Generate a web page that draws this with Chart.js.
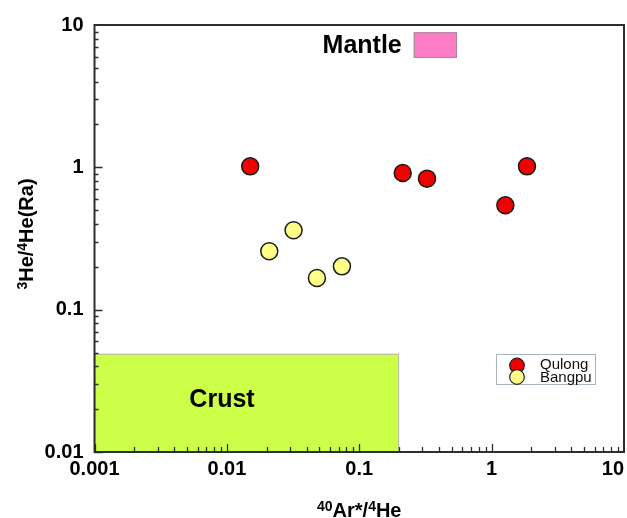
<!DOCTYPE html>
<html>
<head>
<meta charset="utf-8">
<script src="https://cdn.jsdelivr.net/npm/chart.js@4/dist/chart.umd.min.js"></script>
<style>
html,body{margin:0;padding:0;background:#fff;}
#wrap{width:627px;height:518px;position:relative;}
</style>
</head>
<body>
<div id="wrap"><canvas id="c" width="627" height="518"></canvas></div>
<script>
// ---- data ----
const qulongX = [0.0150, 0.213, 0.325, 1.27, 1.85];
const qulongY = [1.016, 0.913, 0.833, 0.541, 1.016];
const bangpuX = [0.0209, 0.0319, 0.0479, 0.0740];
const bangpuY = [0.257, 0.361, 0.167, 0.2015];
const xTickValues = [0.001, 0.01, 0.1, 1, 10];
const xTickLabels = ['0.001', '0.01', '0.1', '1', '10'];
const yTickValues = [0.01, 0.1, 1, 10];
const yTickLabels = ['0.01', '0.1', '1', '10'];
const crustBox = [0.001, 0.2, 0.01, 0.049];   // xMin, xMax, yMin, yMax
const mantleBox = [0.258, 0.548, 5.87, 8.89]; // xMin, xMax, yMin, yMax
const seriesNames = ['Qulong', 'Bangpu'];
const regionLabels = ['Crust', 'Mantle'];
// axis titles as [text, isSuperscript] pieces
const xTitleParts = [['40', true], ['Ar*/', false], ['4', true], ['He', false]];
const yTitleParts = [['3', true], ['He/', false], ['4', true], ['He(Ra)', false]];

const FONT = '"Liberation Sans", Arial, Helvetica, sans-serif';

function pts(xs, ys) { return xs.map((x, i) => ({x: x, y: ys[i]})); }

function drawParts(ctx, parts, cx, baseY) {
  const big = 'bold 20px ' + FONT, small = 'bold 14px ' + FONT;
  let w = 0;
  parts.forEach(p => { ctx.font = p[1] ? small : big; w += ctx.measureText(p[0]).width; });
  let x = cx - w / 2;
  ctx.textAlign = 'left';
  ctx.textBaseline = 'alphabetic';
  parts.forEach(p => {
    ctx.font = p[1] ? small : big;
    ctx.fillText(p[0], x, p[1] ? baseY - 6 : baseY);
    x += ctx.measureText(p[0]).width;
  });
}

const decor = {
  id: 'decor',
  beforeDatasetsDraw(chart) {
    const {ctx, scales: {x, y}} = chart;
    ctx.save();
    // crust
    let x0 = x.getPixelForValue(crustBox[0]), x1 = x.getPixelForValue(crustBox[1]);
    let y0 = y.getPixelForValue(crustBox[3]), y1 = y.getPixelForValue(crustBox[2]);
    ctx.fillStyle = '#ccff47';
    ctx.fillRect(x0, y0, x1 - x0, y1 - y0);
    ctx.strokeStyle = '#b4b8a8';
    ctx.lineWidth = 1;
    ctx.strokeRect(x0 + 0.5, y0 + 0.5, x1 - x0 - 1, y1 - y0);
    ctx.fillStyle = '#000';
    ctx.font = 'bold 25px ' + FONT;
    ctx.textAlign = 'center';
    ctx.textBaseline = 'middle';
    ctx.fillText(regionLabels[0], 222, 400);
    // mantle
    x0 = x.getPixelForValue(mantleBox[0]); x1 = x.getPixelForValue(mantleBox[1]);
    y0 = y.getPixelForValue(mantleBox[3]); y1 = y.getPixelForValue(mantleBox[2]);
    ctx.fillStyle = '#ff7dc6';
    ctx.fillRect(x0, y0, x1 - x0, y1 - y0);
    ctx.strokeStyle = '#a08898';
    ctx.strokeRect(x0 + 0.5, y0 + 0.5, x1 - x0 - 1, y1 - y0 - 1);
    ctx.fillStyle = '#000';
    ctx.textAlign = 'right';
    ctx.fillText(regionLabels[1], x0 - 12, (y0 + y1) / 2 + 1);
    ctx.restore();
  },
  afterDraw(chart) {
    const {ctx, chartArea: a, scales: {x, y}} = chart;
    ctx.save();
    ctx.strokeStyle = '#2a2e30';
    ctx.lineWidth = 2;
    ctx.strokeRect(a.left, a.top, a.right - a.left, a.bottom - a.top);
    ctx.lineWidth = 1.3;
    ctx.beginPath();
    for (let e = -3; e < 1; e++) {
      for (let m = 1; m <= 9; m++) {
        const v = m * Math.pow(10, e);
        const px = Math.round(x.getPixelForValue(v)) + 0.5;
        const len = m === 1 ? 8 : 5;
        ctx.moveTo(px, a.bottom);
        ctx.lineTo(px, a.bottom - len);
      }
    }
    for (let e = -2; e < 1; e++) {
      for (let m = 1; m <= 9; m++) {
        const v = m * Math.pow(10, e);
        const py = Math.round(y.getPixelForValue(v)) + 0.5;
        const len = m === 1 ? 8 : 4;
        ctx.moveTo(a.left, py);
        ctx.lineTo(a.left + len, py);
      }
    }
    ctx.stroke();
    // axis titles
    ctx.fillStyle = '#000';
    drawParts(ctx, xTitleParts, (a.left + a.right) / 2, 517);
    ctx.save();
    ctx.translate(33, 234);
    ctx.rotate(-Math.PI / 2);
    drawParts(ctx, yTitleParts, 0, 0);
    ctx.restore();
    // legend
    ctx.lineWidth = 1;
    ctx.strokeStyle = '#aab4bc';
    ctx.fillStyle = '#fff';
    ctx.fillRect(496.5, 354.5, 99, 30);
    ctx.strokeRect(496.5, 354.5, 99, 30);
    const ds = chart.data.datasets;
    const cy = [365.5, 377];
    ctx.font = '15px ' + FONT;
    ctx.textAlign = 'left';
    ctx.textBaseline = 'middle';
    for (let i = 0; i < 2; i++) {
      ctx.beginPath();
      ctx.arc(517, cy[i], 7.3, 0, Math.PI * 2);
      ctx.fillStyle = ds[i].backgroundColor;
      ctx.fill();
      ctx.lineWidth = 1.2;
      ctx.strokeStyle = '#222';
      ctx.stroke();
      ctx.fillStyle = '#111';
      ctx.fillText(ds[i].label, 540, cy[i] + (i === 0 ? -1 : 1));
    }
    ctx.restore();
  }
};

const zeroPad = () => ({left: 0, top: 0, right: 0, bottom: 0});

function xAfterFit(s) {
  s.height = 66; s.paddingLeft = 0; s.paddingRight = 0; s.getPadding = zeroPad;
  if (!s._patched) {
    const orig = s._computeLabelItems;
    s._computeLabelItems = function (ca) {
      const items = orig.call(this, ca);
      if (items.length) items[items.length - 1].options.textAlign = 'right';
      return items;
    };
    s._patched = true;
  }
}

new Chart(document.getElementById('c'), {
  type: 'scatter',
  data: {
    datasets: [
      {label: seriesNames[0], data: pts(qulongX, qulongY), backgroundColor: '#f20000',
       borderColor: '#1a1a1a', borderWidth: 1.5, pointRadius: 8.5, pointHoverRadius: 8.5},
      {label: seriesNames[1], data: pts(bangpuX, bangpuY), backgroundColor: '#ffff88',
       borderColor: '#1a1a1a', borderWidth: 1.5, pointRadius: 8.5, pointHoverRadius: 8.5}
    ]
  },
  options: {
    responsive: false,
    animation: false,
    layout: {autoPadding: false, padding: {top: 25, right: 3, left: 0, bottom: 0}},
    plugins: {legend: {display: false}, tooltip: {enabled: false}},
    scales: {
      x: {
        type: 'logarithmic', min: 0.001, max: 10, position: 'bottom',
        grid: {display: false, drawTicks: false},
        border: {display: false},
        afterBuildTicks: s => { s.ticks = xTickValues.map(v => ({value: v})); },
        afterFit: xAfterFit,
        ticks: {
          autoSkip: false, maxRotation: 0, padding: 5, color: '#000',
          font: {family: FONT, size: 20, weight: 'bold'},
          callback: (v, i) => xTickLabels[i]
        },
        title: {display: false, text: '⁴⁰Ar*/⁴He'}
      },
      y: {
        type: 'logarithmic', min: 0.01, max: 10,
        grid: {display: false, drawTicks: false},
        border: {display: false},
        afterBuildTicks: s => { s.ticks = yTickValues.map(v => ({value: v})); },
        afterFit: s => { s.width = 94.5; s.paddingTop = 0; s.paddingBottom = 0; s.getPadding = zeroPad; },
        ticks: {
          autoSkip: false, padding: 11, color: '#000',
          font: {family: FONT, size: 20, weight: 'bold'},
          callback: (v, i) => yTickLabels[i]
        },
        title: {display: false, text: '³He/⁴He(Ra)'}
      }
    }
  },
  plugins: [decor]
});
</script>
</body>
</html>
